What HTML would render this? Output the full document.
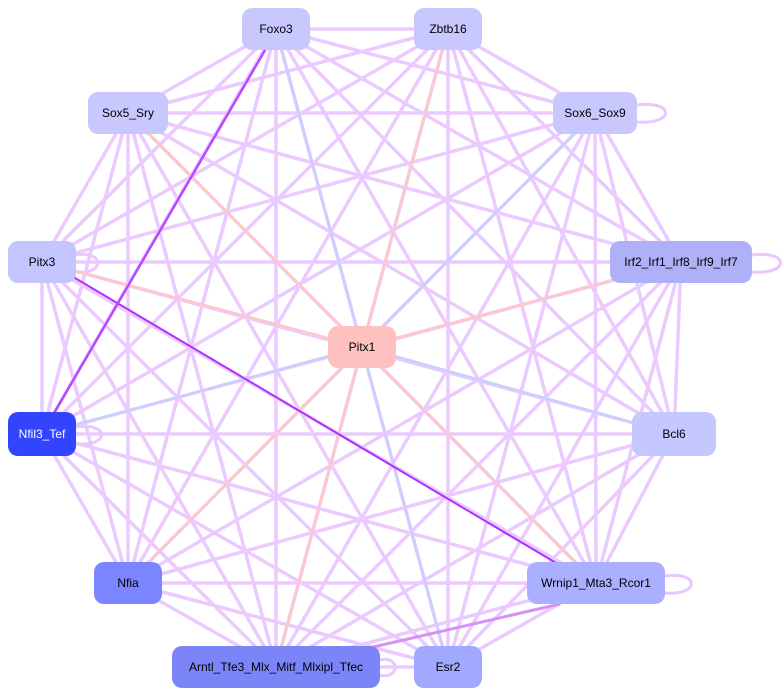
<!DOCTYPE html>
<html><head><meta charset="utf-8">
<style>
html,body{margin:0;padding:0;background:#fff;}
svg{display:block;}
text{font-family:"Liberation Sans",Arial,sans-serif;font-size:12px;text-anchor:middle;dominant-baseline:central;}
</style></head>
<body>
<svg id="g" width="784" height="698" viewBox="0 0 784 698" xmlns="http://www.w3.org/2000/svg">
<g id="edges"></g>
<g fill="none" stroke="#e8c8ff" stroke-width="3">
<path d="M637,105 C675,100 675,125 637,122"/>
<path d="M752,255 C790,250 790,275 752,272"/>
<path d="M76,255 C105,250 105,275 76,272"/>
<path d="M76,427 C110,422 110,447 76,444"/>
<path d="M665,576 C700,571 700,596 665,593"/>
<path d="M380,660 C400,655 400,680 380,675"/>
</g>
<g id="special"></g>
<g id="nodes">
<rect x="242" y="8" width="68" height="42" rx="10" fill="#c8c8ff"/><text x="276" y="29">Foxo3</text>
<rect x="414" y="8" width="68" height="42" rx="10" fill="#c8c8ff"/><text x="448" y="29">Zbtb16</text>
<rect x="88" y="92" width="80" height="42" rx="10" fill="#c8c8ff"/><text x="128" y="113">Sox5_Sry</text>
<rect x="553" y="92" width="84" height="42" rx="10" fill="#c8c8ff"/><text x="595" y="113">Sox6_Sox9</text>
<rect x="8" y="241" width="68" height="42" rx="10" fill="#c4c4ff"/><text x="42" y="262">Pitx3</text>
<rect x="610" y="241" width="142" height="42" rx="10" fill="#aeb0f8"/><text x="681" y="262">Irf2_Irf1_Irf8_Irf9_Irf7</text>
<rect x="328" y="326" width="68" height="42" rx="10" fill="#ffc0c0"/><text x="362" y="347">Pitx1</text>
<rect x="8" y="412" width="68" height="44" rx="10" fill="#3344ff"/><text x="42" y="434" fill="#fff">Nfil3_Tef</text>
<rect x="632" y="412" width="84" height="44" rx="10" fill="#c4c8ff"/><text x="674" y="434">Bcl6</text>
<rect x="94" y="562" width="68" height="42" rx="10" fill="#7a85ff"/><text x="128" y="583">Nfia</text>
<rect x="527" y="562" width="138" height="42" rx="10" fill="#aab0ff"/><text x="596" y="583">Wrnip1_Mta3_Rcor1</text>
<rect x="172" y="646" width="208" height="42" rx="10" fill="#7b85f8"/><text x="276" y="667">Arntl_Tfe3_Mlx_Mitf_Mlxipl_Tfec</text>
<rect x="414" y="646" width="68" height="42" rx="10" fill="#a0a8ff"/><text x="448" y="667">Esr2</text>
</g>
</svg>
<script>
var N={Foxo3:[276,29],Zbtb16:[448,29],Sox5:[128,113],Sox6:[595,113],Pitx3:[42,262],Irf2:[681,262],Nfil3:[42,434],Bcl6:[674,434],Nfia:[128,583],Wrnip1:[596,583],Arntl:[276,667],Esr2:[448,667]};
var P=[362,347];var ns="http://www.w3.org/2000/svg";
function L(g,a,b,c,w){var l=document.createElementNS(ns,"line");l.setAttribute("x1",a[0]);l.setAttribute("y1",a[1]);l.setAttribute("x2",b[0]);l.setAttribute("y2",b[1]);l.setAttribute("stroke",c);l.setAttribute("stroke-width",w);g.appendChild(l);}
var E=document.getElementById("edges"),S=document.getElementById("special");
var k=Object.keys(N);
for(var i=0;i<k.length;i++)for(var j=i+1;j<k.length;j++){L(E,N[k[i]],N[k[j]],"#ebcaff",3.5);}
var pk="#ffc8c8",bl="#c8d0ff";
var pc={Foxo3:bl,Zbtb16:pk,Sox5:pk,Sox6:bl,Pitx3:pk,Irf2:pk,Nfil3:bl,Bcl6:bl,Nfia:pk,Wrnip1:pk,Arntl:pk,Esr2:bl};
for(var n in pc)L(S,P,N[n],pc[n],2.5);
L(S,[48,262],[590,583],"#b030ff",2);
L(S,[50,420],[268,45],"#b848ff",2.5);
L(S,[560,604],[360,650],"#d890f8",3);
</script>
</body></html>
